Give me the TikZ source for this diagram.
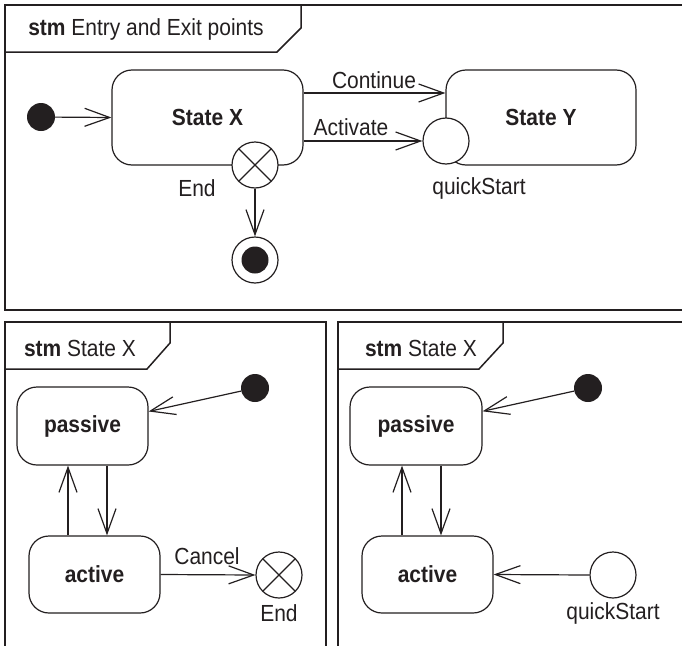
\documentclass[tikz,border=0pt]{standalone}
\usepackage{fontspec}
\setmainfont{Liberation Sans}[FakeStretch=0.9]
\usetikzlibrary{arrows.meta}
\definecolor{ink}{RGB}{35,31,32}
\begin{document}
\begin{tikzpicture}[x=1pt,y=-1pt,
  frame/.style={draw=ink, line width=1.5pt},
  state/.style={draw=ink, line width=1.2pt, rounded corners=20pt, fill=white, inner sep=0pt,
                font=\bfseries\fontsize{23.3}{28}\selectfont, text=ink},
  lbl/.style={font=\fontsize{23.3}{28}\selectfont, text=ink, inner sep=0pt},
  initdot/.style={circle, fill=ink, minimum size=28pt, inner sep=0pt},
  pseudo/.style={circle, draw=ink, line width=1.2pt, fill=white, minimum size=46pt, inner sep=0pt},
  exitpt/.style={pseudo, path picture={
      \draw[ink, line width=1.2pt] (path picture bounding box.north west) -- (path picture bounding box.south east)
                                   (path picture bounding box.north east) -- (path picture bounding box.south west);}},
  finalst/.style={pseudo, path picture={\fill[ink] (path picture bounding box.center) circle (13.5pt);}},
  arr/.style={draw=ink, line width=1.2pt, -{Straight Barb[length=25pt,width=18pt]}}
]
\useasboundingbox (0,0) rectangle (682,645);
\clip (0,0) rectangle (682,645);

% ---------- frames ----------
\draw[frame] (5,5) rectangle (700,310);
\draw[frame] (5,52) -- (277,52) -- (301,28) -- (301,5);
\draw[frame] (5,660) -- (5,322) -- (326,322) -- (326,660);
\draw[frame] (5,369) -- (147,369) -- (170,343) -- (170,322);
\draw[frame] (338,660) -- (338,322) -- (700,322);
\draw[frame] (338,369) -- (479,369) -- (503,343) -- (503,322);

\node[lbl] (title1) at (146,29) {\textbf{stm} Entry and Exit points};
\node[lbl] (title2) at (80,348) {\textbf{stm} State X};
\node[lbl] (title3) at (421,348) {\textbf{stm} State X};

% ---------- top diagram ----------
\node[initdot] (init) at (41,117) {};
\node[state, minimum width=191pt, minimum height=95pt] (X) at (207.5,117.5) {State X};
\node[state, minimum width=190pt, minimum height=95pt] (Y) at (541,117.5) {State Y};
\node[exitpt] (exitX) at (255,165) {};
\node[pseudo] (qs) at (446,141) {};
\node[finalst] (fin) at (255,260) {};

\draw[arr] (init) -- (X.west);
\draw[arr] ([yshift=24.5pt]X.east) -- ([yshift=24.5pt]X.east -| Y.west);
\draw[arr] (X.east |- qs.west) -- (qs.west);
\draw[arr] (exitX.south) -- (fin.north);

\node[lbl] (lcont) at (374,80) {Continue};
\node[lbl] (lact) at (351,127) {Activate};
\node[lbl] (lend) at (197,188) {End};
\node[lbl] (lqs) at (479,188) {quickStart};

% ---------- lower left ----------
\node[initdot] (init2) at (255,388) {};
\node[state, minimum width=131pt, minimum height=78pt] (pas1) at (82.5,426) {passive};
\node[state, minimum width=131pt, minimum height=77pt] (act1) at (94.5,574.5) {active};
\node[exitpt] (end1) at (279,575) {};

\draw[arr] (init2) -- (pas1);
\draw[arr] ([xshift=-26.5pt]act1.north) -- ([xshift=-26.5pt]act1.north |- pas1.south);
\draw[arr] ([xshift=24.5pt]pas1.south) -- ([xshift=24.5pt]pas1.south |- act1.north);
\draw[arr] (act1.east) -- (end1.west);

\node[lbl] (lcancel) at (207,556) {Cancel};
\node[lbl] (lend1) at (279,613) {End};

% ---------- lower right ----------
\node[initdot] (init3) at (588,388) {};
\node[state, minimum width=132pt, minimum height=78pt] (pas2) at (416,426) {passive};
\node[state, minimum width=131pt, minimum height=77pt] (act2) at (427.5,574.5) {active};
\node[pseudo] (qs2) at (613,575) {};

\draw[arr] (init3) -- (pas2);
\draw[arr] ([xshift=-25.5pt]act2.north) -- ([xshift=-25.5pt]act2.north |- pas2.south);
\draw[arr] ([xshift=25pt]pas2.south) -- ([xshift=25pt]pas2.south |- act2.north);
\draw[arr] (qs2.west) -- (act2.east);

\node[lbl] (lqs2) at (613,613) {quickStart};
\end{tikzpicture}
\end{document}
